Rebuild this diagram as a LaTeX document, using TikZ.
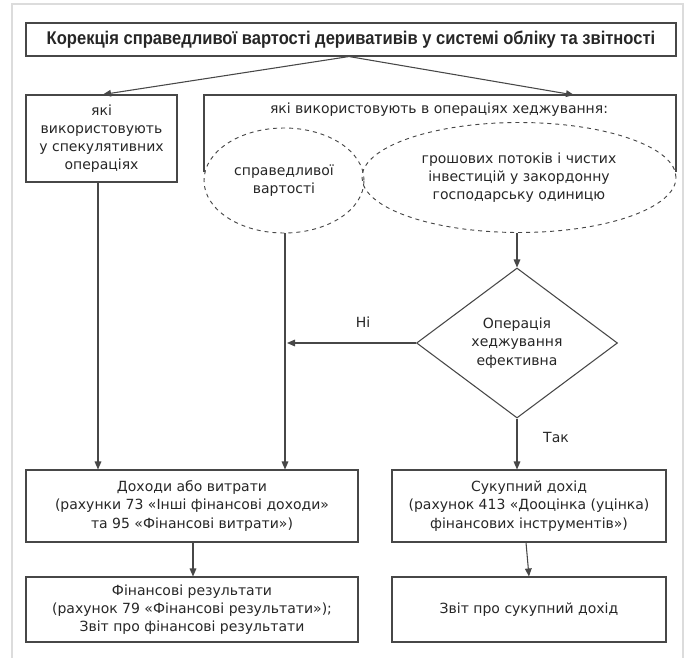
\documentclass[tikz,border=0pt]{standalone}
\usepackage{fontspec}
\setmainfont{DejaVu Sans}
\newfontfamily\titlefont[FakeStretch=0.9]{Liberation Sans}
\usetikzlibrary{shapes.geometric,arrows.meta,calc}
\definecolor{linec}{HTML}{474747}
\definecolor{textc}{HTML}{262626}
\definecolor{framec}{HTML}{DCDCDC}
\begin{document}
\begin{tikzpicture}[x=0.75pt,y=-0.75pt,
  every node/.style={text=textc, font=\fontsize{10.5}{13.6}\selectfont},
  box/.style={draw=linec, line width=0.8pt, rectangle, inner sep=0pt, align=center},
  oval/.style={draw=linec, line width=0.7pt, dashed, ellipse, inner sep=0pt, align=center},
  decide/.style={draw=linec, line width=0.8pt, diamond, inner sep=0pt, align=center},
  conn/.style={draw=linec, line width=0.8pt},
  arr/.style={conn, -{Triangle[length=6pt,width=5pt]}},
  lbl/.style={inner sep=1pt}]
\useasboundingbox (0,0) rectangle (696,657);
\draw[framec, line width=1.4pt] (12,4) rectangle (683,670);

\node[box, minimum width=487.5pt, minimum height=24.75pt, font=\titlefont\bfseries\fontsize{13.8}{15}\selectfont] (title) at (351,39.5)
  {Корекція справедливої вартості деривативів у системі обліку та звітності};

\node[box, minimum width=113.25pt, minimum height=65.25pt] (spec) at (101.5,138.5)
  {які\\використовують\\у спекулятивних\\операціях};

% open box for hedging
\coordinate (hl) at (204,172);
\coordinate (htl) at (204,95);
\coordinate (htr) at (676,95);
\coordinate (hr) at (676,172);
\draw[conn] (hl) -- (htl) -- (htr) -- (hr);
\node (hedge) at (439,110) {які використовують в операціях хеджування:};
\coordinate (htop) at (574,95);
\coordinate (apex) at (349,56);

\node[oval, minimum width=120pt, minimum height=78.75pt] (fair) at (284,180.5)
  {справедливої\\вартості};
\node[oval, minimum width=235.5pt, minimum height=82.5pt] (cash) at (519,177.5)
  {грошових потоків і чистих\\інвестицій у закордонну\\господарську одиницю};

\node[decide, minimum width=150.75pt, minimum height=112.5pt] (eff) at (517,343)
  {Операція\\хеджування\\ефективна};

\node[box, minimum width=249pt, minimum height=54pt] (inc) at (192,506)
  {Доходи або витрати\\(рахунки 73 «Інші фінансові доходи»\\та 95 «Фінансові витрати»)};
\node[box, minimum width=249pt, minimum height=48.75pt] (fin) at (192,609.5)
  {Фінансові результати\\(рахунок 79 «Фінансові результати»);\\Звіт про фінансові результати};
\node[box, minimum width=205.5pt, minimum height=54pt] (ci) at (529,506)
  {Сукупний дохід\\(рахунок 413 «Дооцінка (уцінка)\\фінансових інструментів»)};
\node[box, minimum width=205.5pt, minimum height=48.75pt] (rep) at (529,609.5)
  {Звіт про сукупний дохід};

\coordinate (nohit) at (287,343);

\draw[arr] (title.south -| apex) -- (spec.north -| 103,0);
\draw[arr] (title.south -| apex) -- (htop);
\draw[arr] (spec.south -| 98,0) -- (inc.north -| 98,0);
\draw[arr] (fair.south -| 285,0) -- (inc.north -| 285,0);
\draw[arr] (cash.south -| eff.north) -- (eff.north);
\draw[arr] (eff.west) -- (nohit);
\draw[arr] (eff.south) -- (ci.north -| eff.south);
\draw[arr] (inc.south -| 193,0) -- (fin.north -| 193,0);
\draw[arr] (ci.south -| 526,0) -- (rep.north -| 529,0);

\node[lbl] (no) at (363,322) {Ні};
\node[lbl] (yes) at (556,437) {Так};
\end{tikzpicture}
\end{document}
